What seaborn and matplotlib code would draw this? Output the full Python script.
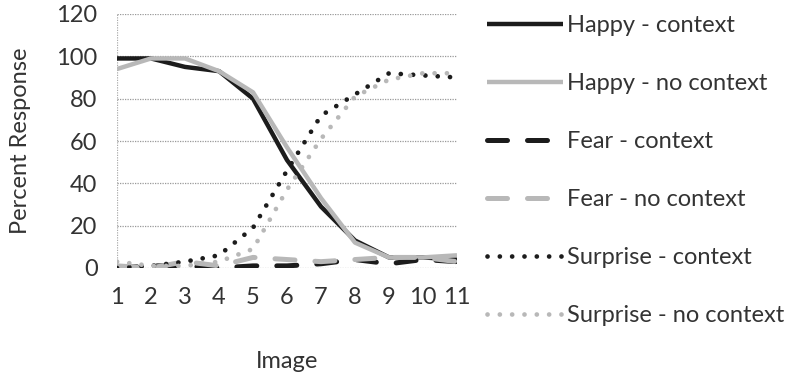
import numpy as np
import pandas as pd
import matplotlib
matplotlib.use("Agg")
import matplotlib.pyplot as plt
import seaborn as sns

images = [1, 2, 3, 4, 5, 6, 7, 8, 9, 10, 11]
happy_context = [99, 99, 95, 93, 80, 51, 29, 13, 5, 5, 4]
happy_no_context = [94, 99, 99, 93, 83, 57, 33, 12, 5, 5, 6]
fear_context = [0, 1, 1, 0, 1, 1, 2, 4, 2, 4, 3]
fear_no_context = [1, 0, 3, 1, 5, 4, 3, 4, 5, 5, 3]
surprise_context = [0, 1, 3, 6, 19, 46, 72, 82, 92, 91, 90]
surprise_no_context = [3, 1, 1, 3, 9, 37, 61, 81, 89, 92, 92]
y_ticks = [0, 20, 40, 60, 80, 100, 120]

series = [
    ("Happy - context", happy_context, "#1c1c1c", 3.2, "-"),
    ("Happy - no context", happy_no_context, "#b8b8b8", 3.2, "-"),
    ("Fear - context", fear_context, "#1c1c1c", 3.6, (0, (4.0, 4.0))),
    ("Fear - no context", fear_no_context, "#b8b8b8", 3.6, (0, (4.0, 4.0))),
    ("Surprise - context", surprise_context, "#1c1c1c", 3.4, (0, (0.01, 2.6))),
    ("Surprise - no context", surprise_no_context, "#b8b8b8", 3.4, (0, (0.01, 2.6))),
]

sns.set_style("white")
plt.rcParams['font.family'] = ['Lato', 'DejaVu Sans']
fs = 17

fig = plt.figure(figsize=(7.94, 3.82), dpi=100)
ax = fig.add_axes([117 / 794, 1 - 268 / 382, 340 / 794, 254 / 382])

for name, vals, col, lw, ls in series:
    df = pd.DataFrame({"Image": images, "Percent": vals})
    sns.lineplot(data=df, x="Image", y="Percent", ax=ax, color=col, lw=lw,
                 linestyle=ls, label=name, dash_capstyle="round",
                 solid_capstyle="butt")

ax.set_xlim(1, 11)
ax.set_ylim(0, 120)
ax.set_yticks(y_ticks)
ax.set_xticks(images)
ax.tick_params(axis="x", labelsize=fs, pad=14, length=0, colors="#333333")
ax.tick_params(axis="y", labelsize=fs, pad=14, length=0, colors="#333333")
for t in y_ticks:
    ax.axhline(t, color="#999999", lw=0.9, ls=(0, (1, 1)), zorder=0)
ax.axvline(1, color="#aaaaaa", lw=0.9, ls=(0, (1, 1)), zorder=0)
for s in ax.spines.values():
    s.set_visible(False)

ax.set_xlabel("Image", fontsize=fs, color="#333333", labelpad=31)
ax.set_ylabel("Percent Response", fontsize=fs, color="#333333", labelpad=18)

leg = ax.legend(loc="upper left", bbox_to_anchor=(487 / 794, 1 - 15 / 382),
                bbox_transform=fig.transFigure, frameon=False, fontsize=fs,
                handlelength=3.2, handletextpad=0.2, labelspacing=1.57,
                borderpad=0, borderaxespad=0)
for txt in leg.get_texts():
    txt.set_color("#333333")

fig.savefig("out.png", dpi=100)
